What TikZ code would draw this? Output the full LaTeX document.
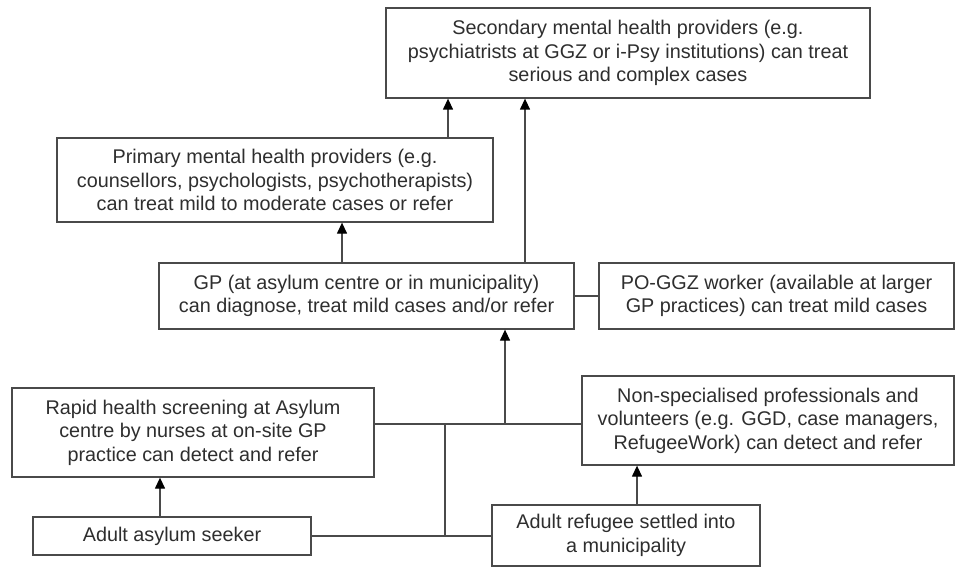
\documentclass[tikz,border=0pt]{standalone}
\usepackage{fontspec}
\setmainfont{Liberation Sans}
\usetikzlibrary{arrows.meta,calc}
\definecolor{linec}{HTML}{4A4A4A}
\definecolor{textc}{HTML}{2E2E2E}
\begin{document}
\begin{tikzpicture}[x=1pt,y=-1pt,
  box/.style={draw=linec,line width=1.3pt,inner sep=0pt,align=center,text=textc,
    font=\fontsize{19.8}{23.5}\selectfont},
  conn/.style={draw=linec,line width=1.3pt},
  arr/.style={conn,-{Triangle[width=10pt,length=11pt,color=black]}}]
\path[use as bounding box] (0,0) rectangle (957,569);
\node[box,minimum width=484pt,minimum height=90pt] (sec) at (628,53)
  {Secondary mental health providers (e.g.\\psychiatrists at GGZ or i-Psy institutions) can treat\\serious and complex cases};
\node[box,minimum width=436pt,minimum height=84pt] (prim) at (275,180)
  {Primary mental health providers (e.g.\\counsellors, psychologists, psychotherapists)\\can treat mild to moderate cases or refer};
\node[box,minimum width=415pt,minimum height=66pt] (gp) at (366.5,296)
  {GP (at asylum centre or in municipality)\\can diagnose, treat mild cases and/or refer};
\node[box,minimum width=355pt,minimum height=66pt] (po) at (776.5,296)
  {PO-GGZ worker (available at larger\\GP practices) can treat mild cases};
\node[box,minimum width=362pt,minimum height=89pt] (rapid) at (193,432.5)
  {Rapid health screening at Asylum\\centre by nurses at on-site GP\\practice can detect and refer};
\node[box,minimum width=372pt,minimum height=89pt] (nons) at (768,420.5)
  {Non-specialised professionals and\\volunteers (e.g. GGD, case managers,\\RefugeeWork) can detect and refer};
\node[box,minimum width=278pt,minimum height=38pt] (asy) at (172,536)
  {Adult asylum seeker};
\node[box,minimum width=268pt,minimum height=61pt] (ref) at (626,535.5)
  {Adult refugee settled into\\a municipality};
\coordinate (c1) at (448,0);
\coordinate (c2) at (525,0);
\coordinate (c3) at (342,0);
\coordinate (c4) at (505,0);
\coordinate (c5) at (160,0);
\coordinate (c6) at (637,0);
\coordinate (j) at (445,424);
\coordinate (j2) at (445,536);
\draw[arr] (prim.north -| c1) -- (sec.south -| c1);
\draw[arr] (gp.north -| c2) -- (sec.south -| c2);
\draw[arr] (gp.north -| c3) -- (prim.south -| c3);
\draw[conn] (gp.east) -- (po.west);
\draw[conn] (rapid.east |- j) -- (nons.west |- j);
\draw[arr] (j -| c4) -- (gp.south -| c4);
\draw[conn] (asy.east) -- (j2) -- (j);
\draw[conn] (ref.west |- j2) -- (j2);
\draw[arr] (asy.north -| c5) -- (rapid.south -| c5);
\draw[arr] (ref.north -| c6) -- (nons.south -| c6);
\end{tikzpicture}
\end{document}
